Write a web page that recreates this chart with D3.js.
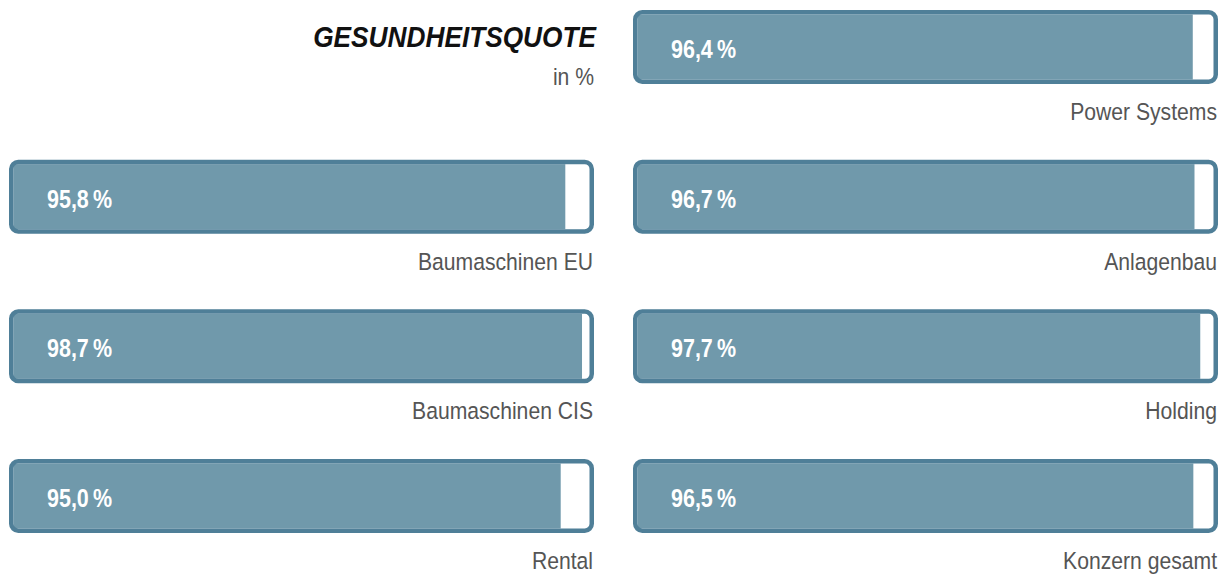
<!DOCTYPE html>
<html>
<head>
<meta charset="utf-8">
<script src="https://cdn.jsdelivr.net/npm/d3@7"></script>
<style>
  body { margin: 0; background: #fff; }
  svg text { font-family: "Liberation Sans", Arial, sans-serif; }
</style>
</head>
<body>
<div class="container"></div>
<script>
// data
var categories = ["Power Systems", "Baumaschinen EU", "Anlagenbau", "Baumaschinen CIS", "Holding", "Rental", "Konzern gesamt"];
var values = [96.4, 95.8, 96.7, 98.7, 97.7, 95.0, 96.5];
var columns = [1, 0, 1, 0, 1, 0, 1];
var rows = [0, 1, 1, 2, 2, 3, 3];

var width = 1223,
    height = 576,
    barH = 74,
    sw = 4.5;

var svg = d3.select("div.container").append("svg")
    .attr("width", width)
    .attr("height", height);

var col = d3.scaleBand().domain([0, 1]).range([9, 1218]).paddingInner(0.0625);
var row = d3.scaleLinear().domain([0, 3]).range([10, 459]);
var bw = col.bandwidth();
var x = d3.scaleLinear().domain([0, 100]).range([0, bw - 2 * sw]);

var loc = d3.formatLocale({decimal: ",", thousands: ".", grouping: [3], currency: ["", " €"]});
var fmt = loc.format(".1f");

// no narrow font installed, so squeeze a normal one horizontally
function place(px, py, sx) {
    return "translate(" + px + "," + py + ") scale(" + sx + ",1)";
}

var data = categories.map(function(c, i) {
    return {name: c, value: values[i], col: columns[i], row: rows[i]};
});

var g = svg.selectAll(".bar")
    .data(data)
    .enter().append("g")
    .attr("class", "bar")
    .attr("transform", function(d) { return "translate(" + col(d.col) + "," + row(d.row) + ")"; });

// white background
g.append("rect")
    .attr("x", sw / 2).attr("y", sw / 2)
    .attr("width", bw - sw).attr("height", barH - sw)
    .attr("rx", 7)
    .attr("fill", "#fff");

// value fill
g.append("rect")
    .attr("x", sw).attr("y", sw)
    .attr("width", function(d) { return x(d.value); })
    .attr("height", barH - 2 * sw)
    .attr("fill", "#7099ab");

// frame
g.append("rect")
    .attr("x", sw / 2).attr("y", sw / 2)
    .attr("width", bw - sw).attr("height", barH - sw)
    .attr("rx", 7)
    .attr("fill", "none")
    .attr("stroke", "#4f7f98")
    .attr("stroke-width", sw);

g.append("text")
    .attr("transform", place(38, barH / 2 + 11, 0.86))
    .attr("fill", "#fff")
    .attr("font-weight", "bold")
    .attr("font-size", 25)
    .text(function(d) { return fmt(d.value) + "\u2009%"; });

g.append("text")
    .attr("transform", place(bw - 1, barH + 36, 0.9))
    .attr("text-anchor", "end")
    .attr("fill", "#555")
    .attr("font-size", 23.5)
    .text(function(d) { return d.name; });

// title
svg.append("text")
    .attr("transform", place(596, 47, 0.89))
    .attr("text-anchor", "end")
    .attr("font-weight", "bold")
    .attr("font-style", "italic")
    .attr("font-size", 29.5)
    .attr("fill", "#111")
    .text("GESUNDHEITSQUOTE");

svg.append("text")
    .attr("transform", place(594, 85, 0.9))
    .attr("text-anchor", "end")
    .attr("font-size", 23.5)
    .attr("fill", "#555")
    .text("in %");
</script>
</body>
</html>
